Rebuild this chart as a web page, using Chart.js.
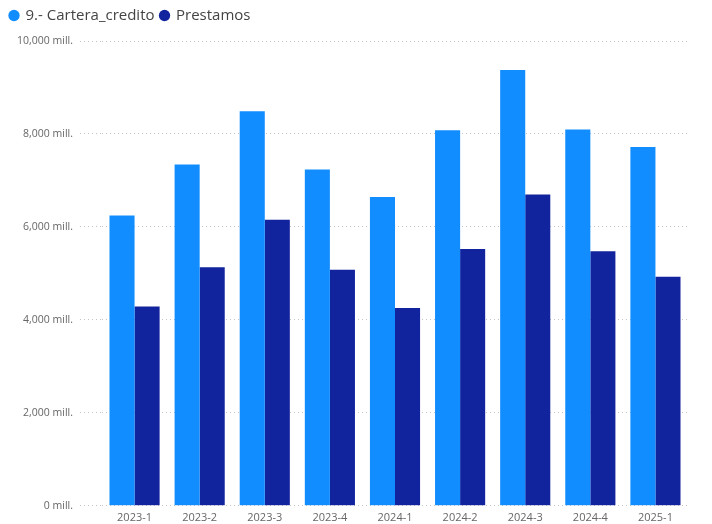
<!DOCTYPE html>
<html><head><meta charset="utf-8">
<script src="https://cdn.jsdelivr.net/npm/chart.js@4"></script>
<style>html,body{margin:0;padding:0;background:#fff}#wrap{width:712px;height:524px}</style>
</head><body><div id="wrap"><canvas id="c" width="712" height="524"></canvas></div>
<script>
const categories = ["2023-1","2023-2","2023-3","2023-4","2024-1","2024-2","2024-3","2024-4","2025-1"];
const carteraCredito = [6245, 7345, 8490, 7235, 6645, 8080, 9375, 8095, 7720];
const prestamos = [4290, 5130, 6155, 5080, 4255, 5525, 6695, 5475, 4930];
const seriesNames = ["9.- Cartera_credito", "Prestamos"];
const yTicks = [0, 2000, 4000, 6000, 8000, 10000];

const fontFamily = "'Open Sans', 'Noto Sans', sans-serif";
const legendSpacer = {
  id: 'legendSpacer',
  beforeInit(chart) {
    const origFit = chart.legend.fit;
    chart.legend.fit = function () { origFit.call(this); this.height += 8; };
  }
};
new Chart(document.getElementById('c'), {
  type: 'bar',
  plugins: [legendSpacer],
  data: {
    labels: categories,
    datasets: [
      {label: seriesNames[0], data: carteraCredito, backgroundColor: '#118DFF'},
      {label: seriesNames[1], data: prestamos, backgroundColor: '#12239E'}
    ]
  },
  options: {
    responsive: false,
    animation: false,
    layout: {padding: {left: 4, right: 24, top: 2, bottom: -5}},
    datasets: {bar: {categoryPercentage: 0.77, barPercentage: 1.0}},
    plugins: {
      legend: {
        position: 'top', align: 'start',
        labels: {
          usePointStyle: true, pointStyle: 'circle', boxWidth: 8, boxHeight: 8,
          padding: 6, color: '#444', font: {family: fontFamily, size: 15}
        }
      },
      tooltip: {enabled: false}
    },
    scales: {
      x: {
        grid: {display: false, drawTicks: false, tickLength: 0}, border: {display: false},
        ticks: {color: '#666', font: {family: fontFamily, size: 11}, padding: 5, maxRotation: 0}
      },
      y: {
        min: 0, max: 10000,
        afterBuildTicks: (s) => { s.ticks = yTicks.map(v => ({value: v})); },
        afterFit: (s) => { s.width = 98; },
        border: {display: false, dash: [1, 3]},
        grid: {color: '#c4c4c4', lineWidth: 1, tickLength: 22, tickBorderDash: [1, 3], tickColor: '#c4c4c4'},
        ticks: {
          color: '#666', padding: 7, font: {family: fontFamily, size: 10.5},
          callback: (v) => Number(v).toLocaleString('en-US') + ' mill.'
        }
      }
    }
  }
});
</script></body></html>
